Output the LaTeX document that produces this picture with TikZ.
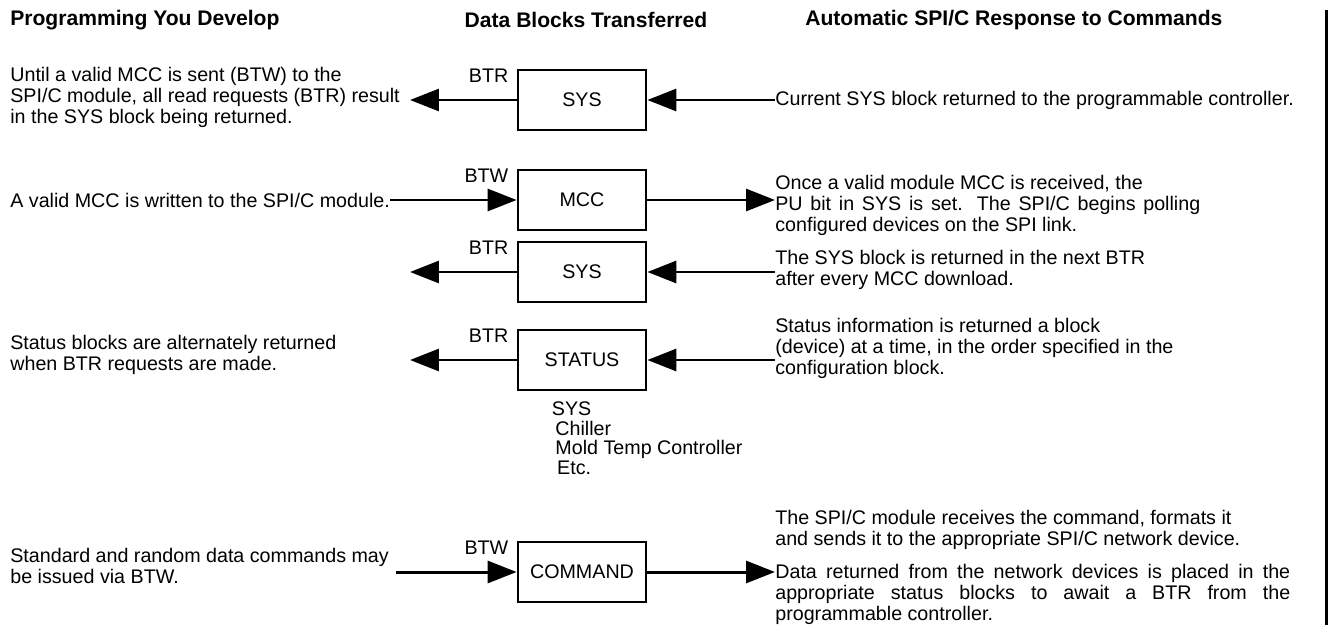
\documentclass[tikz,border=0pt]{standalone}
\usepackage{fontspec}
\setmainfont{Liberation Sans}
\usetikzlibrary{arrows.meta,positioning}

\begin{document}
\begin{tikzpicture}[
    x=0.02cm, y=-0.02cm,
    hdr/.style={font=\fontsize{12}{13}\selectfont\bfseries,inner sep=0pt},
    txt/.style={font=\fontsize{11.2}{12}\selectfont,align=left,inner sep=0pt},
    lbl/.style={font=\fontsize{11.2}{12}\selectfont,inner sep=0pt},
    blk/.style={draw,line width=1.6pt,minimum width=2.56cm,minimum height=1.2cm,font=\fontsize{11.2}{12}\selectfont},
    arr/.style={-{Triangle[length=0.58cm,width=0.44cm]},line width=1.7pt}
]
\useasboundingbox (0,0) rectangle (1332,632);

% column heads
\node[hdr,anchor=west] (hprog) at (10,20) {Programming You Develop};
\node[hdr] (hdata) at (586,20) {Data Blocks Transferred};
\node[hdr,anchor=west] (hresp) at (805,20) {Automatic SPI/C Response to Commands};
\draw[line width=1.7pt] (1326,10) -- (1326,625);

% data blocks
\node[blk] (sys1) at (582,100) {SYS};
\node[blk] (mcc) at (582,200) {MCC};
\node[blk] (sys2) at (582,272) {SYS};
\node[blk] (status) at (582,360) {STATUS};
\node[blk] (cmd) at (582,572) {COMMAND};

\node[lbl,below left=0cm and 0.16cm of sys1.north west] (btr1) {BTR};
\node[lbl,below left=0cm and 0.16cm of mcc.north west] (btw2) {BTW};
\node[lbl,below left=0cm and 0.16cm of sys2.north west] (btr3) {BTR};
\node[lbl,below left=0cm and 0.16cm of status.north west] (btr4) {BTR};
\node[lbl,below left=0cm and 0.16cm of cmd.north west] (btw5) {BTW};

\node[txt,font=\fontsize{11.2}{11.2}\selectfont,below right=0.2cm and 0.7cm of status.south west] (devs)
  {SYS\\\hspace{2pt}Chiller\\\hspace{2pt}Mold Temp Controller\\\hspace{3pt}Etc.};

% programming side
\node[txt,anchor=west] (prog1) at (10,97) {Until a valid MCC is sent (BTW) to the\\SPI/C module, all read requests (BTR) result\\in the SYS block being returned.};
\node[txt,anchor=west] (prog2) at (10,200) {A valid MCC is written to the SPI/C module.};
\node[txt,anchor=west] (prog4) at (10,355) {Status blocks are alternately returned\\when BTR requests are made.};
\node[txt,anchor=west] (prog5) at (10,566) {Standard and random data commands may\\be issued via BTW.};

% response side
\node[txt,anchor=west] (resp1) at (775,100) {Current SYS block returned to the programmable controller.};
\node[txt,anchor=west] (resp2) at (775,205) {Once a valid module MCC is received, the\\\makebox[8.5cm][s]{PU bit in SYS is set. The SPI/C begins polling}\\configured devices on the SPI link.};
\node[txt,anchor=west] (resp3) at (775,270) {The SYS block is returned in the next BTR\\after every MCC download.};
\node[txt,anchor=west] (resp4) at (775,348) {Status information is returned a block\\(device) at a time, in the order specified in the\\configuration block.};
\node[txt,anchor=west] (resp5) at (775,530) {The SPI/C module receives the command, formats it\\and sends it to the appropriate SPI/C network device.};
\node[txt,anchor=north west] (resp6) at (775,564)
  {\makebox[10.3cm][s]{Data returned from the network devices is placed in the}\\
   \makebox[10.3cm][s]{appropriate status blocks to await a BTR from the}\\
   programmable controller.};

\coordinate (end1) at (410,100);
\coordinate (end3) at (410,272);
\coordinate (end4) at (410,360);
\coordinate (start5) at (396,572);

\draw[arr] (sys1) -- (end1);
\draw[arr] (resp1) -- (sys1);
\draw[arr] (prog2) -- (mcc);
\draw[arr] (mcc) -- (mcc -| resp2.west);
\draw[arr] (sys2) -- (end3);
\draw[arr] (resp3.west |- sys2) -- (sys2);
\draw[arr] (status) -- (end4);
\draw[arr] (resp4.west |- status) -- (status);
\draw[arr] (start5) -- (cmd);
\draw[arr] (cmd) -- (cmd -| resp6.west);
\end{tikzpicture}
\end{document}
